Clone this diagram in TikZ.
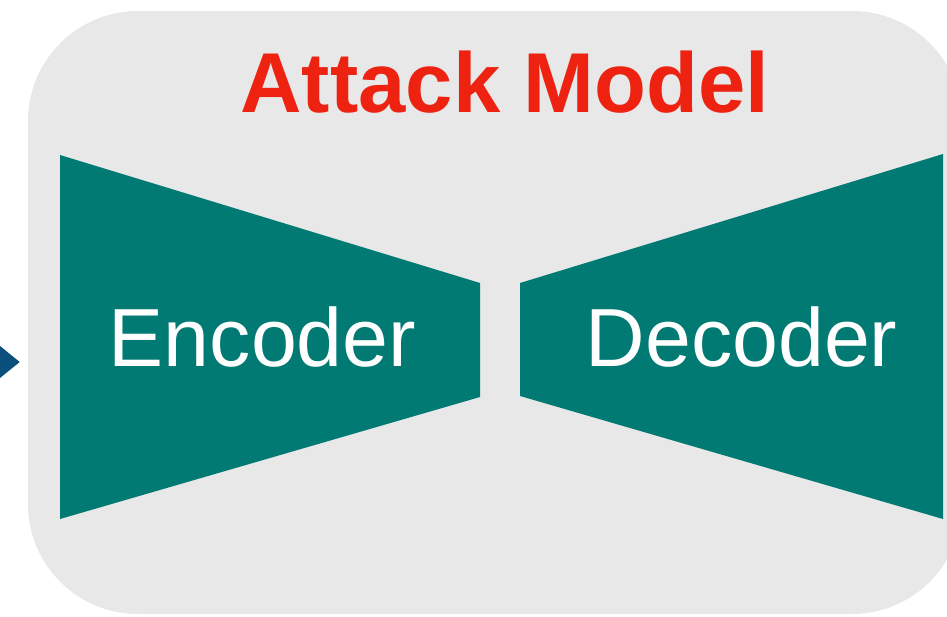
\documentclass[tikz,border=0pt]{standalone}
\usepackage{fontspec}
\setmainfont{Liberation Sans}
\usepackage{tikz}
\usetikzlibrary{arrows.meta,positioning}

\definecolor{panelgray}{HTML}{E8E8E8}
\definecolor{coderteal}{HTML}{007A73}
\definecolor{titlered}{HTML}{EE2211}
\definecolor{feedblue}{HTML}{0B4F7C}

\begin{document}
\begin{tikzpicture}[x=1pt,y=-1pt,
  panel/.style={fill=panelgray,rounded corners=110pt,inner sep=0pt,minimum width=934pt,minimum height=603pt},
  coder/.style={fill=coderteal},
  head/.style={text=titlered,font=\fontsize{85}{85}\selectfont\bfseries,anchor=base,inner sep=0pt},
  lab/.style={text=white,font=\fontsize{82.5}{82.5}\selectfont,anchor=base,inner sep=0pt},
  feed/.style={draw=feedblue,line width=6pt,-{Triangle[length=20pt,width=31pt]}}]
\useasboundingbox (0,0) rectangle (947,616);
\node[panel] (model) at (495,312.5) {};
\node[head] (title) at (505,112) {Attack Model};
% encoder and decoder blocks
\fill[coder] (60,155) -- (480,283) -- (480,397) -- (60,519) -- cycle;
\fill[coder] (520,283) -- (943,154) -- (943,519) -- (520,396) -- cycle;
\node[lab] (enc) at (262.5,366) {Encoder};
\node[lab] (dec) at (741.5,366) {Decoder};
% input arrow, only its head is in view
\coordinate (src) at (-60,362);
\draw[feed,shorten >=8pt] (src) -- (src -| model.west);
\end{tikzpicture}
\end{document}
